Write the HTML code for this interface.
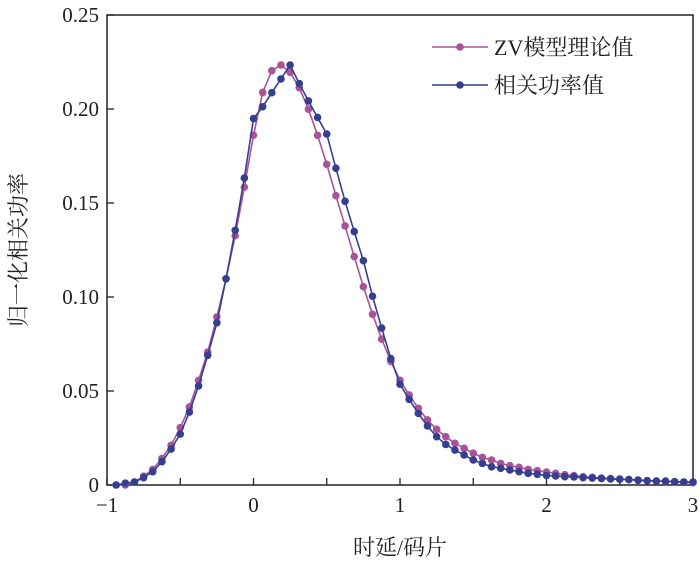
<!DOCTYPE html>
<html><head><meta charset="utf-8"><style>
body{margin:0;background:#fff}
svg text{font-family:"Liberation Serif","Noto Serif CJK SC",serif;fill:#222}
</style></head><body>
<svg id="c" width="700" height="565"></svg>
<script>
const xStart=-0.9375, xStep=1/16;
const zvValues=[0,0,0.0016,0.0047,0.0083,0.0141,0.0211,0.0305,0.0415,0.0557,0.0707,0.0894,0.1097,0.1326,0.1584,0.1861,0.2088,0.2204,0.2234,0.2195,0.2113,0.1999,0.186,0.1706,0.1539,0.1378,0.1215,0.1055,0.0908,0.0776,0.0657,0.0557,0.0479,0.0408,0.0346,0.0296,0.0257,0.0222,0.0195,0.0169,0.0147,0.0133,0.0115,0.0103,0.0094,0.0083,0.0076,0.0069,0.0062,0.0055,0.005,0.0044,0.0041,0.0037,0.0034,0.0032,0.0029,0.0027,0.0023,0.0021,0.0018,0.0016,0.0014,0.0012];
const corrValues=[0,0.001,0.0016,0.0039,0.0071,0.0124,0.0191,0.0271,0.0388,0.0527,0.069,0.0863,0.1097,0.1355,0.1633,0.1949,0.2012,0.2087,0.216,0.2234,0.2135,0.2043,0.1955,0.1867,0.1685,0.1509,0.1348,0.1193,0.1004,0.0835,0.0672,0.0536,0.0456,0.0381,0.0314,0.0257,0.0216,0.0186,0.016,0.0133,0.0115,0.0097,0.0089,0.008,0.0071,0.0062,0.0057,0.0051,0.0048,0.0044,0.0043,0.0039,0.0037,0.0034,0.0032,0.003,0.0029,0.0025,0.0023,0.0021,0.0021,0.0018,0.0016,0.0016];
const xTicks=[-1,0,1,2,3];
const xTickLabels=["−1","0","1","2","3"];
const yTicks=[0,0.05,0.1,0.15,0.2,0.25];
const yTickLabels=["0","0.05","0.10","0.15","0.20","0.25"];
const seriesNames=["ZV模型理论值","相关功率值"];

const L=107,R=693,T=15,B=485;
const X=v=>L+(v+1)/4*(R-L);
const Y=v=>B-v/0.25*(B-T);
const NS="http://www.w3.org/2000/svg";
const svg=document.getElementById('c');
function mk(t,a,p){const e=document.createElementNS(NS,t);for(const k in a)e.setAttribute(k,a[k]);(p||svg).appendChild(e);return e;}

const frame=mk('rect',{x:L,y:T,width:R-L,height:B-T,fill:'none',stroke:'#222','stroke-width':1.5});



for(let v=-1;v<=3.001;v+=0.5){
  const t=mk('line',{x1:X(v),x2:X(v),y1:B,y2:B-7,stroke:'#222','stroke-width':1.3});
  
  
}
xTicks.forEach((v,i)=>{
  const t=mk('text',{x:X(v),y:B+27,'text-anchor':'middle','font-size':21});
  t.textContent=xTickLabels[i];
  
  
});
yTicks.forEach((v,i)=>{
  const l=mk('line',{x1:L,x2:L+7,y1:Y(v),y2:Y(v),stroke:'#222','stroke-width':1.3});
  
  
  const t=mk('text',{x:L-8,y:Y(v)+7,'text-anchor':'end','font-size':21});
  t.textContent=yTickLabels[i];
  
  
});

function series(vals,color,name){
  const g=mk('g',{});
  
  
  const pts=vals.map((v,i)=>X(xStart+i*xStep)+','+Y(v)).join(' ');
  const pl=mk('polyline',{points:pts,fill:'none',stroke:color,'stroke-width':1.6},g);
  
  
  vals.forEach((v,i)=>{
    const c=mk('circle',{cx:X(xStart+i*xStep),cy:Y(v),r:3.8,fill:color},g);
    
    
  });
}
series(zvValues,'#a8539a','zv-model-series');
series(corrValues,'#353f8f','correlation-power-series');

const colors=['#a8539a','#353f8f'];
[47,85].forEach((y,i)=>{
  const g=mk('g',{});
  
  
  mk('line',{x1:432,x2:488,y1:y,y2:y,stroke:colors[i],'stroke-width':1.6},g);
  mk('circle',{cx:460,cy:y,r:3.8,fill:colors[i]},g);
  const t=mk('text',{x:494,y:y+8,'font-size':22},g);
  t.textContent=seriesNames[i];
});

const xl=mk('text',{x:400,y:555,'text-anchor':'middle','font-size':22});
xl.textContent='时延/码片';


const yl=mk('text',{x:0,y:0,'text-anchor':'middle','font-size':22,transform:'translate(26,250) rotate(-90)'});
yl.textContent='归一化相关功率';


</script>
</body></html>
